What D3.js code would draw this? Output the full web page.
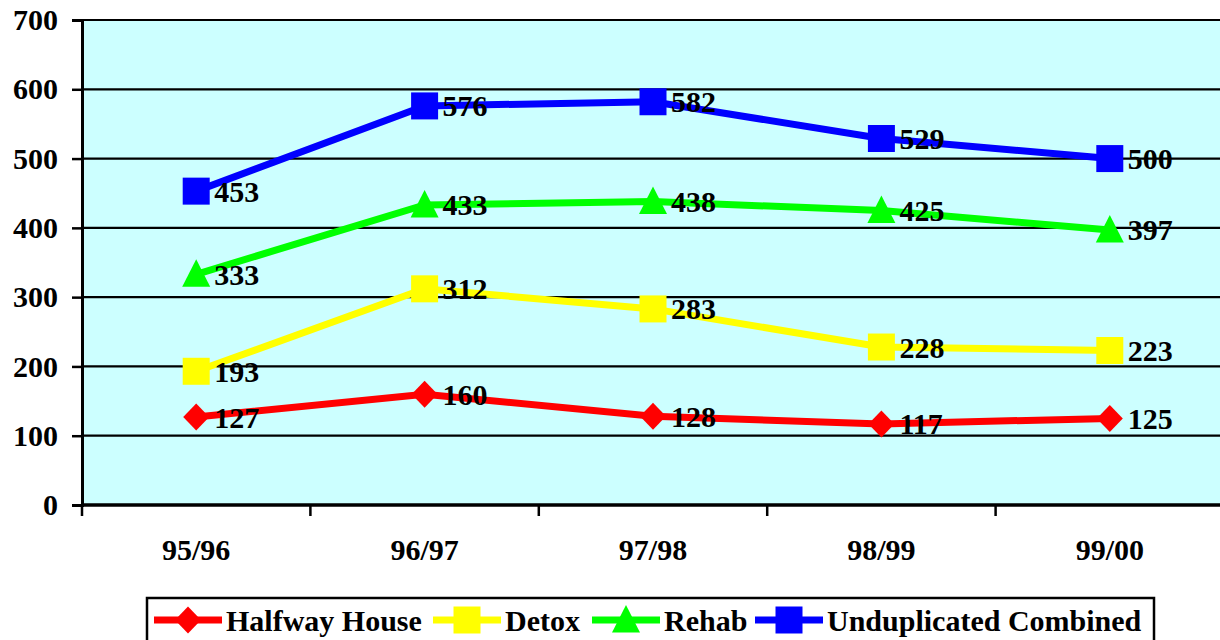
<!DOCTYPE html>
<html>
<head>
<meta charset="utf-8">
<script src="https://cdn.jsdelivr.net/npm/d3@7"></script>
<style>
  body { margin: 0; background: #fff; }
  svg { display: block; }
  svg text { font-family: "Liberation Serif", "Times New Roman", serif; font-weight: bold; fill: #000; }
</style>
</head>
<body>
<script>
// data
var years = ["95/96", "96/97", "97/98", "98/99", "99/00"];
var halfway = [127, 160, 128, 117, 125];
var detox = [193, 312, 283, 228, 223];
var rehab = [333, 433, 438, 425, 397];
var unduplicated = [453, 576, 582, 529, 500];
var yTicks = [0, 100, 200, 300, 400, 500, 600, 700];

var series = [
  {name: "Halfway House", values: halfway, color: "#ff0000", shape: "diamond"},
  {name: "Detox", values: detox, color: "#ffff00", shape: "square"},
  {name: "Rehab", values: rehab, color: "#00ff00", shape: "triangle"},
  {name: "Unduplicated Combined", values: unduplicated, color: "#0000ff", shape: "square"}
];

var W = 1220, H = 640;
var margin = {top: 20, left: 82, bottom: 135};
var plotRight = 1224;
var fs = 30;

var svg = d3.select("body").append("svg")
    .attr("width", W)
    .attr("height", H);

var x = d3.scaleBand().domain(years).range([margin.left, plotRight]);
var y = d3.scaleLinear().domain([0, 700]).range([H - margin.bottom, margin.top]);

// plot background
svg.append("rect")
    .attr("x", margin.left)
    .attr("y", y(700))
    .attr("width", plotRight - margin.left)
    .attr("height", y(0) - y(700))
    .attr("fill", "#ccffff");

// gridlines
svg.append("g").selectAll("line")
    .data(yTicks.filter(function(d) { return d > 0; }))
  .enter().append("line")
    .attr("x1", margin.left)
    .attr("x2", plotRight)
    .attr("y1", function(d) { return y(d); })
    .attr("y2", function(d) { return y(d); })
    .attr("stroke", "#000")
    .attr("stroke-width", 2.2);

// y axis
var yAxis = svg.append("g")
    .attr("transform", "translate(" + margin.left + ",0)")
    .call(d3.axisLeft(y).tickValues(yTicks).tickSize(10).tickPadding(14));
yAxis.select(".domain").attr("stroke-width", 3);
yAxis.selectAll(".tick line").attr("stroke-width", 2.5);
yAxis.selectAll("text")
    .attr("font-size", fs);

// x axis with ticks at band edges
var xAxis = svg.append("g")
    .attr("transform", "translate(0," + y(0) + ")");
xAxis.append("line")
    .attr("x1", margin.left).attr("x2", plotRight)
    .attr("stroke", "#000").attr("stroke-width", 3.5);
xAxis.selectAll(".xt")
    .data(years)
  .enter().append("line")
    .attr("class", "xt")
    .attr("x1", function(d) { return x(d); })
    .attr("x2", function(d) { return x(d); })
    .attr("y1", 0).attr("y2", 11)
    .attr("stroke", "#000").attr("stroke-width", 2.5);
xAxis.selectAll(".xl")
    .data(years)
  .enter().append("text")
    .attr("class", "xl")
    .attr("x", function(d) { return x(d) + x.bandwidth() / 2; })
    .attr("y", 55)
    .attr("text-anchor", "middle")
    .attr("font-size", fs)
    .text(function(d) { return d; });

function markerPath(shape) {
  if (shape === "diamond") return "M0,-13.5L13,0L0,13.5L-13,0Z";
  if (shape === "triangle") return "M0,-15L14,12.5L-14,12.5Z";
  return "M-13.5,-13.5H13.5V13.5H-13.5Z";
}

var cx = function(d, i) { return x(years[i]) + x.bandwidth() / 2; };
var line = d3.line()
    .x(cx)
    .y(function(d) { return y(d); });

series.forEach(function(s) {
  var g = svg.append("g");
  g.append("path")
      .datum(s.values)
      .attr("d", line)
      .attr("fill", "none")
      .attr("stroke", s.color)
      .attr("stroke-width", 7);
  g.selectAll(".m")
      .data(s.values)
    .enter().append("path")
      .attr("class", "m")
      .attr("transform", function(d, i) { return "translate(" + cx(d, i) + "," + y(d) + ")"; })
      .attr("d", markerPath(s.shape))
      .attr("fill", s.color);
});

// value labels
series.forEach(function(s) {
  svg.append("g").selectAll("text")
      .data(s.values)
    .enter().append("text")
      .attr("x", function(d, i) { return cx(d, i) + 18; })
      .attr("y", function(d) { return y(d); })
      .attr("dy", "0.35em")
      .attr("font-size", fs)
      .text(function(d) { return d; });
});

// legend
var legend = svg.append("g");
legend.append("rect")
    .attr("x", 147).attr("y", 598)
    .attr("width", 1007).attr("height", 60)
    .attr("fill", "#fff")
    .attr("stroke", "#000").attr("stroke-width", 2.5);

var legendX = [154, 433, 592, 755];
var ly = 620;
series.forEach(function(s, i) {
  var g = legend.append("g").attr("transform", "translate(" + legendX[i] + "," + ly + ")");
  g.append("line")
      .attr("x1", 0).attr("x2", 68)
      .attr("stroke", s.color).attr("stroke-width", 7);
  g.append("path")
      .attr("transform", "translate(34,0)")
      .attr("d", markerPath(s.shape))
      .attr("fill", s.color);
  g.append("text")
      .attr("x", 72)
      .attr("y", 0)
      .attr("dy", "0.35em")
      .attr("font-size", fs)
      .text(s.name);
});
</script>
</body>
</html>
